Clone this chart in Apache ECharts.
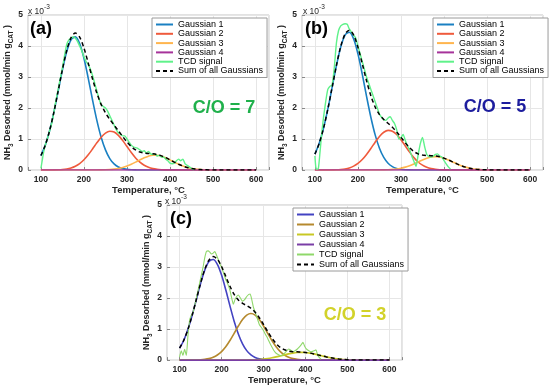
<!DOCTYPE html>
<html><head><meta charset="utf-8">
<script src="https://cdn.jsdelivr.net/npm/echarts@6/dist/echarts.min.js"></script>
<style>html,body{margin:0;padding:0;background:#fff}#c{width:550px;height:386px}</style>
</head><body><div id="c"></div><script>
// Temperature grid for the fitted curves (°C)
const T10 = [100,110,120,130,140,150,160,170,180,190,200,210,220,230,240,250,260,270,280,290,300,310,320,330,340,350,360,370,380,390,400,410,420,430,440,450,460,470,480,490,500,510,520,530,540,550,560,570,580,590,600];
const G4T = [100, 600];
const G4V = [0, 0];

// Panel (a) C/O = 7  (values in 1e-3 mmol/min gCAT)
const g1A = [0.466,0.794,1.259,1.853,2.537,3.230,3.820,4.201,4.294,4.080,3.603,2.958,2.258,1.602,1.056,0.648,0.369,0.196,0.096,0.044,0.019,0.007,0.003,0,0,0,0,0,0,0,0,0,0,0,0,0,0,0,0,0,0,0,0,0,0,0,0,0,0,0,0];
const g2A = [0,0,0,0.003,0.007,0.016,0.034,0.067,0.122,0.208,0.330,0.490,0.679,0.877,1.057,1.189,1.248,1.223,1.118,0.953,0.758,0.563,0.390,0.252,0.152,0.086,0.045,0.022,0.010,0.004,0,0,0,0,0,0,0,0,0,0,0,0,0,0,0,0,0,0,0,0,0];
const g3A = [0,0,0,0,0,0,0,0,0,0,0,0,0,0.002,0.004,0.008,0.015,0.029,0.050,0.083,0.128,0.187,0.255,0.327,0.395,0.447,0.476,0.476,0.447,0.395,0.327,0.255,0.187,0.128,0.083,0.050,0.029,0.015,0.008,0.004,0.002,0,0,0,0,0,0,0,0,0,0];
const sumA = [0.466,0.794,1.259,1.856,2.544,3.246,3.854,4.268,4.416,4.288,3.933,3.448,2.937,2.481,2.117,1.845,1.632,1.448,1.264,1.080,0.905,0.757,0.648,0.579,0.547,0.533,0.521,0.498,0.457,0.399,0.327,0.255,0.187,0.128,0.083,0.050,0.029,0.015,0.008,0.004,0.002,0,0,0,0,0,0,0,0,0,0];
const tcdAT = [100,103,106,110,115,120,125,130,135,140,145,150,155,160,165,170,175,180,185,190,195,200,205,210,215,220,225,230,235,240,245,250,255,260,265,270,275,280,285,290,295,300,305,310,315,320,325,330,335,340,345,350,355,360,365,370,375,380,385,390,395,400,405,410,415,420,425,430,435,440,445,450,455];
const tcdAV = [0.05,0.3,0.55,0.8,1.0,1.25,1.5,1.85,2.25,2.6,2.95,3.3,3.7,4.05,4.2,4.25,4.3,4.25,4.15,4.0,3.85,3.65,3.5,3.4,3.25,3.05,2.8,2.55,2.3,2.1,2.05,2.0,1.9,1.75,1.6,1.45,1.3,1.2,1.15,1.1,1.1,1.0,0.9,0.8,0.75,0.72,0.7,0.65,0.6,0.62,0.55,0.6,0.52,0.5,0.52,0.45,0.48,0.42,0.42,0.35,0.3,0.22,0.2,0.22,0.3,0.35,0.3,0.35,0.2,0.15,0.1,0.05,0.0];

// Panel (b) C/O = 5
const g1B = [0.512,0.860,1.346,1.962,2.663,3.367,3.966,4.350,4.444,4.228,3.746,3.092,2.376,1.702,1.134,0.704,0.407,0.220,0.110,0.051,0.022,0.009,0.003,0,0,0,0,0,0,0,0,0,0,0,0,0,0,0,0,0,0,0,0,0,0,0,0,0,0,0,0];
const g2B = [0,0,0,0,0.003,0.007,0.017,0.035,0.068,0.125,0.212,0.338,0.502,0.695,0.898,1.082,1.217,1.278,1.252,1.144,0.975,0.776,0.576,0.399,0.258,0.156,0.088,0.046,0.023,0.010,0.004,0.002,0,0,0,0,0,0,0,0,0,0,0,0,0,0,0,0,0,0,0];
const g3B = [0,0,0,0,0,0,0,0,0,0,0,0,0,0,0,0.002,0.005,0.010,0.019,0.034,0.058,0.093,0.140,0.197,0.261,0.325,0.379,0.417,0.430,0.417,0.379,0.325,0.261,0.197,0.140,0.093,0.058,0.034,0.019,0.010,0.005,0.002,0,0,0,0,0,0,0,0,0];
const sumB = [0.512,0.860,1.346,1.962,2.666,3.374,3.983,4.385,4.512,4.353,3.958,3.430,2.878,2.397,2.032,1.788,1.629,1.508,1.381,1.229,1.055,0.878,0.719,0.596,0.519,0.481,0.467,0.463,0.453,0.427,0.383,0.327,0.261,0.197,0.140,0.093,0.058,0.034,0.019,0.010,0.005,0.002,0,0,0,0,0,0,0,0,0];
const tcdBT = [100,102,104,108,112,116,120,125,130,135,140,145,150,155,160,165,170,175,180,185,190,195,200,205,210,215,220,225,230,235,240,245,250,255,260,265,270,275,280,285,290,295,300,305,310,315,320,325,330,335,340,345,350,355,360,365,370,375,380,385,390,395,400,405,410,415];
const tcdBV = [0.45,0.1,0.02,0.05,0.6,1.2,1.7,2.2,2.6,2.7,2.75,3.3,4.1,4.5,4.65,4.7,4.72,4.7,4.55,4.45,4.35,4.25,4.0,3.75,3.5,3.25,3.0,2.8,2.6,2.4,2.2,2.0,1.8,1.7,1.62,1.6,1.68,1.72,1.6,1.5,1.3,1.0,1.05,1.15,0.95,0.78,0.65,0.45,0.28,0.12,0.5,0.85,1.05,0.75,0.5,0.43,0.42,0.45,0.5,0.52,0.45,0.42,0.3,0.2,0.1,0.03];

// Panel (c) C/O = 3
const g1C = [0.383,0.639,0.996,1.445,1.956,2.467,2.900,3.178,3.245,3.089,2.741,2.267,1.748,1.255,0.841,0.525,0.305,0.165,0.084,0.039,0.017,0.007,0.003,0,0,0,0,0,0,0,0,0,0,0,0,0,0,0,0,0,0,0,0,0,0,0,0,0,0,0,0];
const g2C = [0,0,0,0.002,0.004,0.010,0.023,0.047,0.091,0.164,0.275,0.431,0.631,0.862,1.098,1.306,1.449,1.500,1.449,1.306,1.098,0.862,0.631,0.431,0.275,0.164,0.091,0.047,0.023,0.010,0.004,0.002,0,0,0,0,0,0,0,0,0,0,0,0,0,0,0,0,0,0,0];
const g3C = [0,0,0,0,0,0,0,0,0,0,0,0,0,0,0,0,0.002,0.007,0.013,0.021,0.034,0.052,0.075,0.103,0.135,0.168,0.200,0.226,0.244,0.250,0.244,0.226,0.200,0.168,0.135,0.103,0.075,0.052,0.034,0.021,0.013,0.007,0.004,0.002,0,0,0,0,0,0,0];
const sumC = [0.383,0.639,0.996,1.447,1.960,2.477,2.923,3.225,3.336,3.253,3.016,2.698,2.379,2.117,1.939,1.831,1.756,1.672,1.546,1.366,1.149,0.921,0.709,0.534,0.410,0.332,0.291,0.273,0.267,0.260,0.248,0.228,0.200,0.168,0.135,0.103,0.075,0.052,0.034,0.021,0.013,0.007,0.004,0.002,0,0,0,0,0,0,0];
const tcdCT = [100,104,108,112,116,120,124,128,132,136,140,144,148,152,156,160,164,168,172,176,180,184,188,192,196,200,205,210,215,220,225,228,232,236,240,245,250,255,260,265,268,272,276,280,285,290,295,300,305,310,315,320,325,330,335,340,345,350,355,360,365,370,375,380,385,390,394,398,402,408,413,420,425,429,433,437];
const tcdCV = [0.1,0.3,0.15,0.35,0.15,0.8,1.3,1.45,1.55,1.75,2.0,2.25,2.5,2.75,3.0,3.3,3.5,3.52,3.48,3.42,3.45,3.5,3.38,3.25,3.1,3.0,2.8,2.6,2.45,2.25,1.95,1.8,1.95,2.05,2.1,2.0,1.9,1.95,2.05,2.12,2.13,1.95,1.7,1.55,1.35,1.15,1.05,0.95,0.82,0.7,0.55,0.42,0.3,0.22,0.18,0.15,0.16,0.22,0.3,0.36,0.32,0.27,0.3,0.35,0.42,0.5,0.57,0.45,0.36,0.3,0.27,0.3,0.33,0.16,0.08,0.03];

const NAMES = ['Gaussian 1','Gaussian 2','Gaussian 3','Gaussian 4','TCD signal','Sum of all Gaussians'];
const yTicks = [0,1,2,3,4,5];
const FONT = '"Liberation Sans", Arial, sans-serif';
const TXT = '#262626';

const colorsAB = ['#1a80c2','#ef5a3c','#ffb54e','#a6339a','#5ff28a','#000000'];
const colorsC  = ['#4343c2','#b5892e','#c8c824','#7a3ea6','#8fd86a','#000000'];

const panels = [
  {grid:{left:28,top:15,width:241,height:155}, sfx:'', col:colorsAB, g:[g1A,g2A,g3A], tT:tcdAT, tV:tcdAV, sum:sumA,
   leg:{left:152,top:18,itemGap:0.3}, tcdW:1.4, xGap:13,
   tag:'(a)', tagXY:[30,20], exp:[28,7], co:'C/O = 7', coXY:[224,108], coColor:'#1fb04b'},
  {grid:{left:302,top:15,width:241,height:155}, sfx:'\u200b', col:colorsAB, g:[g1B,g2B,g3B], tT:tcdBT, tV:tcdBV, sum:sumB,
   leg:{left:433,top:18,itemGap:0.3}, tcdW:1.4, xGap:13,
   tag:'(b)', tagXY:[305,20], exp:[303,7], co:'C/O = 5', coXY:[495,107], coColor:'#1d1d9e'},
  {grid:{left:167,top:205,width:235,height:157}, sfx:'\u200b\u200b', col:colorsC, g:[g1C,g2C,g3C], tT:tcdCT, tV:tcdCV, sum:sumC,
   leg:{left:293,top:208,itemGap:1}, tcdW:1.1, xGap:12,
   tag:'(c)', tagXY:[170,210], exp:[165,197], co:'C/O = 3', coXY:[355,315], coColor:'#d2d22a'}
];

const pairs = (xs, ys) => xs.map((x, k) => [x, ys[k]]);
const option = {animation:false, backgroundColor:'#fff', grid:[], xAxis:[], yAxis:[], series:[], legend:[], graphic:[]};

panels.forEach((p, i) => {
  option.grid.push(Object.assign({show:true, borderColor:'#c4c4c4', borderWidth:1, backgroundColor:'#fff'}, p.grid));
  option.xAxis.push({
    type:'value', gridIndex:i, min:70, max:630, splitNumber:5,
    axisLine:{show:false},
    axisTick:{show:true, inside:true, length:3, lineStyle:{color:'#888'}},
    splitLine:{show:true, lineStyle:{color:'#e6e6e6', width:1}},
    axisLabel:{fontSize:8.5, fontWeight:'bold', color:TXT, fontFamily:FONT, margin:5,
      formatter: v => (v % 100 === 0 ? String(v) : '')},
    name:'Temperature, \u00b0C', nameLocation:'middle', nameGap:p.xGap,
    nameTextStyle:{fontSize:9.5, fontWeight:'bold', color:TXT, fontFamily:FONT}
  });
  option.yAxis.push({
    type:'value', gridIndex:i, min:yTicks[0], max:yTicks[yTicks.length-1], interval:1,
    axisLine:{show:false},
    axisTick:{show:true, inside:true, length:3, lineStyle:{color:'#888'}},
    splitLine:{show:true, lineStyle:{color:'#e6e6e6', width:1}},
    axisLabel:{fontSize:8.5, fontWeight:'bold', color:TXT, fontFamily:FONT, margin:5},
    name:'{n|NH}{s|3}{n| Desorbed (mmol/min g}{s|CAT}{n| )}',
    nameLocation:'middle', nameGap:12, nameRotate:90,
    nameTextStyle:{rich:{
      n:{fontSize:9, fontWeight:'bold', color:TXT, fontFamily:FONT, lineHeight:13},
      s:{fontSize:6.5, fontWeight:'bold', color:TXT, fontFamily:FONT, verticalAlign:'bottom', lineHeight:7}
    }}
  });
  const mk = (k, xs, ys, extra) => Object.assign({
    type:'line', name:NAMES[k] + p.sfx, xAxisIndex:i, yAxisIndex:i, data:pairs(xs, ys),
    symbol:'none', smooth:0.3, lineStyle:{color:p.col[k], width:1.6}, itemStyle:{color:p.col[k]}
  }, extra || {});
  option.series.push(mk(0, T10, p.g[0]));
  option.series.push(mk(1, T10, p.g[1]));
  option.series.push(mk(2, T10, p.g[2]));
  option.series.push(mk(3, G4T, G4V, {smooth:false}));
  option.series.push(mk(4, p.tT, p.tV, {smooth:0.2, lineStyle:{color:p.col[4], width:p.tcdW}}));
  option.series.push(mk(5, T10, p.sum, {lineStyle:{color:'#000', width:1.5, type:[4,3]}}));
  option.legend.push({
    orient:'vertical', left:p.leg.left, top:p.leg.top, itemGap:p.leg.itemGap,
    data:NAMES.map(n => n + p.sfx), formatter: n => n.replace(/\u200b/g, ''),
    itemWidth:17, itemHeight:10, padding:[2,4,2,3], selectedMode:false,
    backgroundColor:'#fff', borderColor:'#9a9a9a', borderWidth:1, borderRadius:0,
    itemStyle:{opacity:0},
    textStyle:{fontSize:9, color:'#000', fontFamily:FONT}
  });
  option.graphic.push(
    {type:'text', x:p.tagXY[0], y:p.tagXY[1], z:100, style:{text:p.tag, fontSize:18, fontWeight:'bold', fontFamily:FONT, fill:'#000', align:'left', verticalAlign:'top'}},
    {type:'text', x:p.exp[0], y:p.exp[1], z:100, style:{text:'x 10', fontSize:8.5, fontFamily:FONT, fill:TXT, align:'left', verticalAlign:'top'}},
    {type:'text', x:p.exp[0]+16, y:p.exp[1]-3.5, z:100, style:{text:'-3', fontSize:6.5, fontFamily:FONT, fill:TXT, align:'left', verticalAlign:'top'}},
    {type:'text', x:p.coXY[0], y:p.coXY[1], z:100, style:{text:p.co, fontSize:18, fontWeight:'bold', fontFamily:FONT, fill:p.coColor, align:'center', verticalAlign:'middle'}}
  );
});

const chart = echarts.init(document.getElementById('c'), null, {renderer:'canvas'});
chart.setOption(option);
</script></body></html>
